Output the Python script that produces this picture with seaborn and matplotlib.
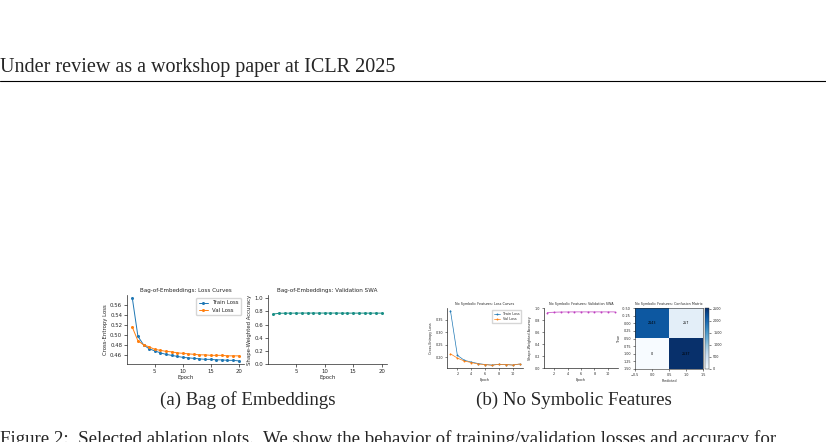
import numpy as np
import pandas as pd
import matplotlib
matplotlib.use("Agg")
import matplotlib.pyplot as plt
import seaborn as sns

# (a) Bag of Embeddings
bag_epochs = list(range(1, 21))
bag_train_loss = [0.573, 0.497, 0.480, 0.472, 0.468, 0.464, 0.461, 0.459, 0.457, 0.455,
                  0.454, 0.453, 0.452, 0.451, 0.451, 0.450, 0.450, 0.449, 0.449, 0.448]
bag_val_loss = [0.515, 0.488, 0.480, 0.476, 0.471, 0.469, 0.467, 0.466, 0.464, 0.463,
                0.462, 0.461, 0.460, 0.460, 0.459, 0.459, 0.459, 0.458, 0.458, 0.458]
bag_swa = [0.760, 0.772, 0.773, 0.774, 0.774, 0.775, 0.775, 0.775, 0.775, 0.775,
           0.775, 0.775, 0.774, 0.774, 0.774, 0.774, 0.774, 0.774, 0.774, 0.774]

# (b) No Symbolic Features
nosym_epochs = list(range(1, 12))
nosym_train_loss = [0.386, 0.207, 0.187, 0.180, 0.174, 0.170, 0.168, 0.171, 0.170, 0.168, 0.172]
nosym_val_loss = [0.213, 0.196, 0.184, 0.178, 0.172, 0.170, 0.167, 0.171, 0.170, 0.168, 0.172]
nosym_swa = [0.925, 0.930, 0.933, 0.934, 0.935, 0.935, 0.935, 0.935, 0.935, 0.935, 0.935]
cm_values = [[2143, 257], [0, 2537]]

sns.set_style("ticks")
plt.rcParams["font.family"] = ["DejaVu Sans"]

W, H = 826, 442
fig = plt.figure(figsize=(W / 100, H / 100), dpi=100)


def rect(x0, y0, x1, y1):
    # pixel box -> figure fraction
    return [x0 / W, 1 - y1 / H, (x1 - x0) / W, (y1 - y0) / H]


serif = "Liberation Serif"

# page header
fig.text(0.0, 1 - 72 / H, "Under review as a workshop paper at ICLR 2025",
         family=serif, fontsize=14.5, va="baseline", ha="left")
fig.add_artist(plt.Line2D([0, 1], [1 - 81 / H, 1 - 81 / H], color="black", lw=0.8))

# ---- (a) loss curves
fs = 3.9
ax = fig.add_axes(rect(127, 295, 244, 364))
df = pd.DataFrame({"epoch": bag_epochs, "Train Loss": bag_train_loss, "Val Loss": bag_val_loss})
sns.lineplot(data=df, x="epoch", y="Train Loss", marker="o", markersize=2.2, lw=0.7,
             color="#1f77b4", label="Train Loss", ax=ax, markeredgewidth=0)
sns.lineplot(data=df, x="epoch", y="Val Loss", marker="o", markersize=2.2, lw=0.7,
             color="#ff7f0e", label="Val Loss", ax=ax, markeredgewidth=0)
ax.set_title("Bag-of-Embeddings: Loss Curves", fontsize=4.1, pad=2)
ax.set_xlabel("Epoch", fontsize=fs, labelpad=1)
ax.set_ylabel("Cross-Entropy Loss", fontsize=fs, labelpad=1.5)
ax.set_xticks([5, 10, 15, 20])
ax.set_yticks([0.46, 0.48, 0.50, 0.52, 0.54, 0.56])
ax.tick_params(labelsize=fs, length=2, width=0.5, pad=1.5)
ax.legend(fontsize=fs, loc="upper right", handlelength=1.6, borderpad=0.5, labelspacing=0.4)
sns.despine(ax=ax)

# ---- (a) SWA
ax = fig.add_axes(rect(268, 295, 387, 364))
sns.lineplot(x=bag_epochs, y=bag_swa, marker="o", markersize=2.2, lw=0.7,
             color="#1a8f86", ax=ax, markeredgewidth=0)
ax.set_title("Bag-of-Embeddings: Validation SWA", fontsize=4.1, pad=2)
ax.set_xlabel("Epoch", fontsize=fs, labelpad=1)
ax.set_ylabel("Shape-Weighted Accuracy", fontsize=fs, labelpad=1.5)
ax.set_ylim(0, 1.05)
ax.set_xticks([5, 10, 15, 20])
ax.set_yticks([0.0, 0.2, 0.4, 0.6, 0.8, 1.0])
ax.tick_params(labelsize=fs, length=2, width=0.5, pad=1.5)
sns.despine(ax=ax)

# ---- (b) loss curves
fs2 = 2.4
ax = fig.add_axes(rect(447, 308, 523, 368))
df2 = pd.DataFrame({"epoch": nosym_epochs, "train": nosym_train_loss, "val": nosym_val_loss})
sns.lineplot(data=df2, x="epoch", y="train", marker="o", markersize=1.4, lw=0.5,
             color="#1f77b4", label="Train Loss", ax=ax, markeredgewidth=0)
sns.lineplot(data=df2, x="epoch", y="val", marker="o", markersize=1.4, lw=0.5,
             color="#ff7f0e", label="Val Loss", ax=ax, markeredgewidth=0)
ax.set_title("No Symbolic Features: Loss Curves", fontsize=fs2, pad=2)
ax.set_xlabel("Epoch", fontsize=fs2, labelpad=1)
ax.set_ylabel("Cross-Entropy Loss", fontsize=fs2, labelpad=1.5)
ax.set_xticks([2, 4, 6, 8, 10])
ax.set_yticks([0.20, 0.25, 0.30, 0.35])
ax.tick_params(labelsize=fs2, length=1.5, width=0.4, pad=1.5)
ax.legend(fontsize=fs2, loc="upper right", handlelength=1.8, borderpad=0.6, labelspacing=0.5)
sns.despine(ax=ax)

# ---- (b) SWA
ax = fig.add_axes(rect(544, 308, 618, 368))
sns.lineplot(x=nosym_epochs, y=nosym_swa, marker="o", markersize=1.4, lw=0.5,
             color="#c03fc0", ax=ax, markeredgewidth=0)
ax.set_title("No Symbolic Features: Validation SWA", fontsize=fs2, pad=2)
ax.set_xlabel("Epoch", fontsize=fs2, labelpad=1)
ax.set_ylabel("Shape-Weighted Accuracy", fontsize=fs2, labelpad=1.5)
ax.set_ylim(0, 1.0)
ax.set_xticks([2, 4, 6, 8, 10])
ax.set_yticks([0.0, 0.2, 0.4, 0.6, 0.8, 1.0])
ax.tick_params(labelsize=fs2, length=1.5, width=0.4, pad=1.5)
sns.despine(ax=ax)

for a in fig.axes:
    for s in a.spines.values():
        s.set_linewidth(0.5)

# ---- (b) confusion matrix
ax = fig.add_axes(rect(635, 308, 703, 369))
cax = fig.add_axes(rect(705, 308, 709, 369))
cm = np.array(cm_values)
im = ax.imshow(cm, cmap="Blues", aspect="auto")
for i in range(2):
    for j in range(2):
        ax.text(j, i, str(cm[i, j]), ha="center", va="center", fontsize=fs2,
                color="black")
ax.set_title("No Symbolic Features: Confusion Matrix", fontsize=fs2, pad=2)
ax.set_xlabel("Predicted", fontsize=fs2, labelpad=1)
ax.set_ylabel("True", fontsize=fs2, labelpad=1)
ax.set_xticks([-0.5, 0.0, 0.5, 1.0, 1.5])
ax.set_yticks([-0.5, -0.25, 0.0, 0.25, 0.5, 0.75, 1.0, 1.25, 1.5])
ax.set_yticklabels(["-0.50", "-0.25", "0.00", "0.25", "0.50", "0.75", "1.00", "1.25", "1.50"])
ax.tick_params(labelsize=fs2, length=1.5, width=0.4, pad=1.5)
for s in ax.spines.values():
    s.set_linewidth(0.4)
cb = fig.colorbar(im, cax=cax)
cb.ax.tick_params(labelsize=fs2, length=1.5, width=0.4, pad=1.5)
cb.outline.set_linewidth(0.3)

# sub-captions
fig.text(248 / W, 1 - 405 / H, "(a) Bag of Embeddings", family=serif, fontsize=13.6,
         ha="center", va="baseline")
fig.text(574 / W, 1 - 405 / H, "(b) No Symbolic Features", family=serif, fontsize=13.6,
         ha="center", va="baseline")

# figure caption (runs off the page bottom, as on the page)
fig.text(0.0, 1 - 444 / H,
         "Figure 2:  Selected ablation plots.  We show the behavior of training/validation losses and accuracy for",
         family=serif, fontsize=13.6, ha="left", va="baseline")

fig.savefig("out.png", dpi=100)
